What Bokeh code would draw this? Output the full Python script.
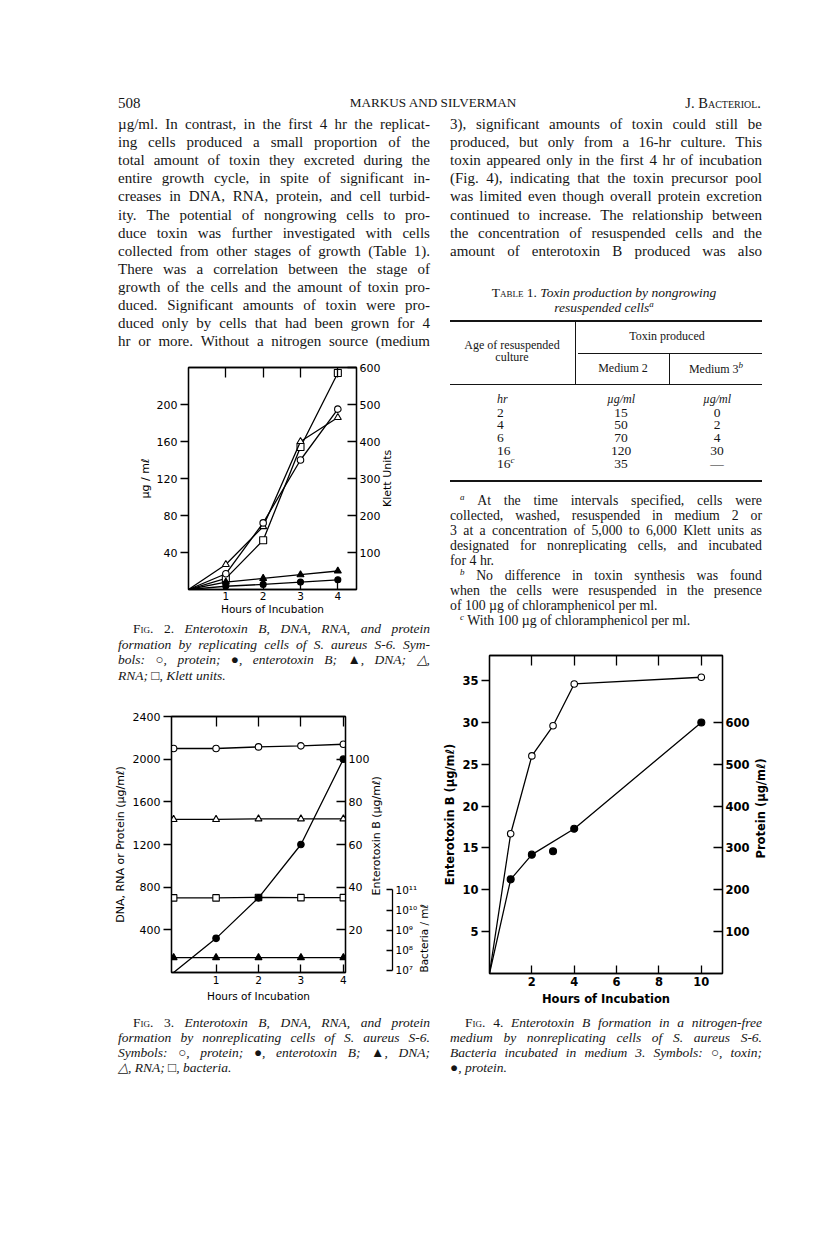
import math
import re
from bokeh.plotting import figure
from bokeh.models import (Div, Spacer, LinearAxis, LogAxis, Range1d, LogScale,
                          FixedTicker, CustomJSTickFormatter)
from bokeh.layouts import column, row
from bokeh.embed import file_html
from bokeh.resources import INLINE

# ---------------------------------------------------------------- data
fig2_hours = [0, 1, 2, 3, 4]
fig2_protein = [0, 17, 72, 140, 195]
fig2_enterotoxin = [0, 3.5, 5.5, 8, 10.5]
fig2_dna = [0, 8, 12, 16, 20]
fig2_rna = [0, 27, 68, 160, 186]
fig2_klett = [0, 30, 133, 385, 585]
fig2_x_ticks = [1, 2, 3, 4]
fig2_left_ticks = [40, 80, 120, 160, 200]
fig2_right_ticks = [100, 200, 300, 400, 500, 600]

fig3_hours = [0, 1, 2, 3, 4]
fig3_protein = [2100, 2100, 2115, 2125, 2140]
fig3_rna = [1435, 1435, 1440, 1440, 1440]
fig3_dna = [140, 140, 140, 140, 140]
fig3_bacteria = [4.0e10, 4.0e10, 4.2e10, 4.1e10, 4.1e10]
fig3_enterotoxin = [0, 16, 35, 60, 100]
fig3_x_ticks = [1, 2, 3, 4]
fig3_left_ticks = [400, 800, 1200, 1600, 2000, 2400]
fig3_tox_ticks = [20, 40, 60, 80, 100]
fig3_bact_ticks = [1e7, 1e8, 1e9, 1e10, 1e11]

fig4_hours = [0, 1, 2, 3, 4, 10]
fig4_toxin = [0, 16.7, 26, 29.6, 34.6, 35.4]
fig4_protein = [0, 225, 284, 292, 346, 600]
fig4_protein_off_curve = [3]
fig4_x_ticks = [2, 4, 6, 8, 10]
fig4_left_ticks = [5, 10, 15, 20, 25, 30, 35]
fig4_right_ticks = [100, 200, 300, 400, 500, 600]

SUP = '<span style="font-size:9px;font-style:italic;position:relative;top:-5px">{}</span>'
table_age = ["2", "4", "6", "16", "16" + SUP.format("c")]
table_medium2 = ["15", "50", "70", "120", "35"]
table_medium3 = ["0", "2", "4", "30", "—"]

# ---------------------------------------------------------------- text
left_text = [
    "µg/ml. In contrast, in the first 4 hr the replicat-",
    "ing cells produced a small proportion of the",
    "total amount of toxin they excreted during the",
    "entire growth cycle, in spite of significant in-",
    "creases in DNA, RNA, protein, and cell turbid-",
    "ity. The potential of nongrowing cells to pro-",
    "duce toxin was further investigated with cells",
    "collected from other stages of growth (Table 1).",
    "There was a correlation between the stage of",
    "growth of the cells and the amount of toxin pro-",
    "duced. Significant amounts of toxin were pro-",
    "duced only by cells that had been grown for 4",
    "hr or more. Without a nitrogen source (medium",
]
right_text = [
    "3), significant amounts of toxin could still be",
    "produced, but only from a 16-hr culture. This",
    "toxin appeared only in the first 4 hr of incubation",
    "(Fig. 4), indicating that the toxin precursor pool",
    "was limited even though overall protein excretion",
    "continued to increase. The relationship between",
    "the concentration of resuspended cells and the",
    "amount of enterotoxin B produced was also",
]
footnotes = [
    (SUP.format("a") + " At the time intervals specified, cells were", True, True),
    ("collected, washed, resuspended in medium 2 or", True, False),
    ("3 at a concentration of 5,000 to 6,000 Klett units as", True, False),
    ("designated for nonreplicating cells, and incubated", True, False),
    ("for 4 hr.", False, False),
    (SUP.format("b") + " No difference in toxin synthesis was found", True, True),
    ("when the cells were resuspended in the presence", True, False),
    ("of 100 µg of chloramphenicol per ml.", False, False),
    (SUP.format("c") + " With 100 µg of chloramphenicol per ml.", False, True),
]
FIGW = '<span style="font-variant:small-caps;font-style:normal">Fig.</span>'
cap2 = [FIGW + ' <span style="font-style:normal">2.</span> Enterotoxin B, DNA, RNA, and protein',
        "formation by replicating cells of S. aureus S-6. Sym-",
        "bols: ○, protein; ●, enterotoxin B; ▲, DNA; △,",
        "RNA; □, Klett units."]
cap3 = [FIGW + ' <span style="font-style:normal">3.</span> Enterotoxin B, DNA, RNA, and protein',
        "formation by nonreplicating cells of S. aureus S-6.",
        "Symbols: ○, protein; ●, enterotoxin B; ▲, DNA;",
        "△, RNA; □, bacteria."]
cap4 = [FIGW + ' <span style="font-style:normal">4.</span> Enterotoxin B formation in a nitrogen-free',
        "medium by nonreplicating cells of S. aureus S-6.",
        "Bacteria incubated in medium 3. Symbols: ○, toxin;",
        "●, protein."]

FONT = "DejaVu Sans"
SERIF = "'Liberation Serif', serif"
LW = 1.3
Z = (0, 0, 0, 0)


# ---------------------------------------------------------------- html helpers
def jline(txt, left, cy, width, size, lh, justify=True, extra=""):
    top = cy - lh / 2
    base = (f"position:absolute;left:{left:.1f}px;top:{top:.1f}px;width:{width:.1f}px;"
            f"height:{lh}px;line-height:{lh}px;font-size:{size}px;white-space:nowrap;{extra}")
    if justify:
        words = re.split(r" (?![^<]*>)", txt)
        inner = "".join(f"<span>{w}</span>" for w in words)
        return f'<div style="{base}display:flex;justify-content:space-between;">{inner}</div>'
    return f'<div style="{base}">{txt}</div>'


def tbox(txt, cx, cy, size, width=200, align="center", lh=14, extra=""):
    if align == "center":
        left = cx - width / 2
    elif align == "right":
        left = cx - width
    else:
        left = cx
    return (f'<div style="position:absolute;left:{left:.1f}px;top:{cy - lh / 2:.1f}px;width:{width}px;'
            f'height:{lh}px;line-height:{lh}px;font-size:{size}px;text-align:{align};white-space:nowrap;{extra}">'
            f'{txt}</div>')


def rule(left, top, width, height):
    return (f'<div style="position:absolute;left:{left:.1f}px;top:{top:.1f}px;width:{width:.1f}px;'
            f'height:{height:.1f}px;background:#151515"></div>')


def make_div(inner, w, h):
    html = (f'<div style="position:relative;width:{w}px;height:{h}px;font-family:{SERIF};'
            f'color:#151515;background:white">{inner}</div>')
    return Div(text=html, width=w, height=h, margin=Z)


BODY_SIZE, BODY_LH, BODY_Y0 = 15, 18.1, 124
NOTE_SIZE, NOTE_LH, NOTE_Y0 = 13.8, 15, 500
CAP_SIZE = 13.5

HDR_Y = 92
BODY_Y = 114
LEFT_X, RIGHT_X = 100, 440

hdr = (tbox("508", 118, 103 - HDR_Y, 15, width=60, align="left", lh=22)
       + tbox("MARKUS AND SILVERMAN", 433, 103 - HDR_Y, 13.2, width=400, lh=22)
       + tbox('J. <span style="font-variant:small-caps">Bacteriol.</span>', 761, 103 - HDR_Y, 14.5,
              width=200, align="right", lh=22))
header_div = make_div(hdr, 816, 22)

inner = "".join(jline(t, 118 - LEFT_X, BODY_Y0 + i * BODY_LH - BODY_Y, 312, BODY_SIZE, BODY_LH)
                for i, t in enumerate(left_text))
left_text_div = make_div(inner, 340, 242)

OX, OY = RIGHT_X, BODY_Y
parts = [jline(t, 450 - OX, BODY_Y0 + i * BODY_LH - OY, 312, BODY_SIZE, BODY_LH)
         for i, t in enumerate(right_text)]
parts.append(tbox('<span style="font-variant:small-caps">Table</span> 1. <i>Toxin production by nongrowing</i>',
                  604 - OX, 293 - OY, 13.5, width=330))
parts.append(tbox('<i>resuspended cells</i>' + SUP.format("a"), 604 - OX, 308 - OY, 13.5, width=330))
parts.append(rule(450 - OX, 320 - OY, 312, 1.8))
parts.append(rule(575 - OX, 321 - OY, 1, 63))
parts.append(rule(578 - OX, 353 - OY, 184, 1))
parts.append(rule(669 - OX, 353 - OY, 1, 31))
parts.append(rule(450 - OX, 384 - OY, 312, 1))
parts.append(rule(450 - OX, 480 - OY, 312, 1.8))
parts.append(tbox("Toxin produced", 667 - OX, 336 - OY, 12))
parts.append(tbox("Age of resuspended", 512 - OX, 345 - OY, 12, lh=11))
parts.append(tbox("culture", 512 - OX, 357 - OY, 12, lh=11))
parts.append(tbox("Medium 2", 623 - OX, 368 - OY, 12))
parts.append(tbox("Medium 3" + SUP.format("b"), 716 - OX, 369 - OY, 12))
parts.append(tbox("<i>hr</i>", 497 - OX, 399 - OY, 12, width=60, align="left"))
parts.append(tbox("<i>µg/ml</i>", 621 - OX, 399 - OY, 12, width=80))
parts.append(tbox("<i>µg/ml</i>", 717 - OX, 399 - OY, 12, width=80))
for i, (a, m2, m3) in enumerate(zip(table_age, table_medium2, table_medium3)):
    cy = 412 + i * 12.8 - OY
    parts.append(tbox(a, 497 - OX, cy, 13.5, width=60, align="left", lh=13))
    parts.append(tbox(m2, 621 - OX, cy, 13.5, width=60, lh=13))
    parts.append(tbox(m3, 717 - OX, cy, 13.5, width=60, lh=13))
for i, (t, just, indent) in enumerate(footnotes):
    ind = 10 if indent else 0
    parts.append(jline(t, 450 - OX + ind, NOTE_Y0 + i * NOTE_LH - OY, 312 - ind, NOTE_SIZE, NOTE_LH,
                       justify=just))
right_div = make_div("".join(parts), 340, 526)


def caption_div(lines, ox, oy, h, y0, pitch, x0):
    out = []
    for i, t in enumerate(lines):
        indent = 15 if i == 0 else 0
        out.append(jline(t, x0 - ox + indent, y0 + i * pitch - oy, 312 - indent, CAP_SIZE, pitch,
                         justify=(i < len(lines) - 1), extra="font-style:italic;"))
    return make_div("".join(out), 340, h)


cap2_div = caption_div(cap2, LEFT_X, 618, 72, 629, 15.5, 118)
cap3_div = caption_div(cap3, LEFT_X, 1010, 80, 1022, 15, 118)
cap4_div = caption_div(cap4, RIGHT_X, 1012, 78, 1022, 15, 450)


# ---------------------------------------------------------------- chart helpers
def base_fig(w, h, xr, yr, borders):
    l, r, t, b = borders
    p = figure(width=w, height=h, x_range=Range1d(*xr), y_range=Range1d(*yr),
               output_backend="svg", toolbar_location=None,
               min_border_left=l, min_border_right=r, min_border_top=t, min_border_bottom=b,
               background_fill_color="white", border_fill_color="white", margin=Z)
    p.xgrid.grid_line_color = None
    p.ygrid.grid_line_color = None
    p.outline_line_color = "black"
    p.outline_line_width = LW
    return p


def style_axis(ax, ticks, tin=0, tout=0, size="11px", standoff=3, label=None,
               label_standoff=3, weight="normal", hide_labels=False):
    ax.ticker = FixedTicker(ticks=ticks)
    ax.major_label_text_font = FONT
    ax.major_label_text_font_size = size
    ax.major_label_text_font_style = weight
    ax.major_label_text_color = "black"
    ax.major_label_standoff = standoff
    if hide_labels:
        ax.formatter = CustomJSTickFormatter(code="return '';")
    ax.axis_line_color = "black"
    ax.axis_line_width = LW
    ax.major_tick_line_color = "black"
    ax.major_tick_line_width = LW
    ax.major_tick_in = tin
    ax.major_tick_out = tout
    ax.minor_tick_line_color = None
    if label is not None:
        ax.axis_label = label
        ax.axis_label_standoff = label_standoff
        ax.axis_label_text_font = FONT
        ax.axis_label_text_font_size = size
        ax.axis_label_text_font_style = weight
        ax.axis_label_text_color = "black"


def right_label(ax, text, lead_em, standoff_up, standoff_plain):
    """Right-hand axis title reading upwards (as printed), anchored at the start
    of the axis and moved along it with leading em spaces."""
    ok = False
    for val in ("start", "left"):
        try:
            ax.axis_label_align = val
            ok = True
            break
        except Exception:
            continue
    if ok:
        try:
            ax.axis_label_orientation = math.pi / 2
        except Exception:
            ok = False
    if ok:
        ax.axis_label = "\u2003" * int(lead_em) + ("\u2002" if lead_em % 1 else "") + text
        ax.axis_label_standoff = standoff_up
    else:
        ax.axis_label = text
        ax.axis_label_standoff = standoff_plain


def series(p, x, y, marker, filled, size=7, rng="default", markers_at_zero=False, curve_skip=()):
    lx = [a for a in x if a not in curve_skip]
    ly = [b for a, b in zip(x, y) if a not in curve_skip]
    p.line(lx, ly, line_color="black", line_width=LW, y_range_name=rng)
    px = [a for a in x if markers_at_zero or a > 0]
    py = [b for a, b in zip(x, y) if markers_at_zero or a > 0]
    p.scatter(px, py, marker=marker, size=size, line_color="black", line_width=1.1,
              fill_color="black" if filled else "white", y_range_name=rng)


def top_ticks(p, ticks):
    top = LinearAxis()
    style_axis(top, ticks, tin=10, standoff=0, hide_labels=True)
    p.add_layout(top, "above")


def boxed(p, h):
    # own row so the column does not line up the frames of different figures
    return row(Spacer(width=1, height=h, margin=Z), p, spacing=0, margin=Z)


# ---------------------------------------------------------------- Fig. 2
p2 = base_fig(339, 262, (0, 4.5), (0, 240), (87, 84, 11, 29))
p2.extra_y_ranges = {"klett": Range1d(0, 600)}
style_axis(p2.xaxis[0], fig2_x_ticks, tin=8, standoff=2, size="10.5px",
           label="Hours of Incubation", label_standoff=0)
style_axis(p2.yaxis[0], fig2_left_ticks, tout=8, label="µg / mℓ", label_standoff=2)
ax = LinearAxis(y_range_name="klett")
style_axis(ax, fig2_right_ticks, tin=9, standoff=3, label="Klett Units")
right_label(ax, "Klett Units", 7.5, 4, 3)
p2.add_layout(ax, "right")
top_ticks(p2, fig2_x_ticks)
series(p2, fig2_hours, fig2_klett, "square", False, size=7, rng="klett")
series(p2, fig2_hours, fig2_rna, "triangle", False, size=7)
series(p2, fig2_hours, fig2_protein, "circle", False, size=6.5)
series(p2, fig2_hours, fig2_dna, "triangle", True, size=7)
series(p2, fig2_hours, fig2_enterotoxin, "circle", True, size=6)

# ---------------------------------------------------------------- Fig. 3
p3 = base_fig(339, 320, (-0.05, 4.05), (0, 2400), (70, 95, 26, 38))
p3.extra_y_ranges = {"tox": Range1d(0, 120),
                     "bact": Range1d(10 ** 6.9, 10 ** 19.6)}
p3.extra_y_scales = {"bact": LogScale()}
style_axis(p3.xaxis[0], fig3_x_ticks, tin=8, standoff=3, size="10.5px",
           label="Hours of Incubation", label_standoff=3)
style_axis(p3.yaxis[0], fig3_left_ticks, tout=8, size="11px",
           label="DNA, RNA or Protein (µg/mℓ)", label_standoff=3)
ax = LinearAxis(y_range_name="tox")
style_axis(ax, fig3_tox_ticks, tin=9, standoff=3, label="Enterotoxin B (µg/mℓ)")
right_label(ax, "Enterotoxin B (µg/mℓ)", 7, 4, 2)
p3.add_layout(ax, "right")
lax = LogAxis(y_range_name="bact", bounds=(1e7, 1e11))
style_axis(lax, fig3_bact_ticks, tin=6, standoff=3, size="10.5px", label="Bacteria / mℓ")
right_label(lax, "Bacteria / mℓ", 0, 4, 4)
lax.formatter = CustomJSTickFormatter(code="""
const e = Math.round(Math.log10(tick));
const sup = {7: '\\u2077', 8: '\\u2078', 9: '\\u2079', 10: '\\u00b9\\u2070', 11: '\\u00b9\\u00b9'};
return '10' + sup[e];
""")
p3.add_layout(lax, "right")
top_ticks(p3, fig3_x_ticks)
series(p3, fig3_hours, fig3_protein, "circle", False, size=6.5, markers_at_zero=True)
series(p3, fig3_hours, fig3_rna, "triangle", False, size=7, markers_at_zero=True)
series(p3, fig3_hours, fig3_bacteria, "square", False, size=6.5, rng="bact", markers_at_zero=True)
series(p3, fig3_hours, fig3_dna, "triangle", True, size=7, markers_at_zero=True)
series(p3, fig3_hours, fig3_enterotoxin, "circle", True, size=6.5, rng="tox")

# ---------------------------------------------------------------- Fig. 4
p4 = base_fig(340, 372, (0, 11), (0, 38), (48, 58, 15, 39))
p4.extra_y_ranges = {"prot": Range1d(0, 760)}
style_axis(p4.xaxis[0], fig4_x_ticks, tin=8, standoff=3, size="11.5px", weight="bold",
           label="Hours of Incubation", label_standoff=3)
style_axis(p4.yaxis[0], fig4_left_ticks, tout=8, size="11.5px", weight="bold",
           label="Enterotoxin B (µg/mℓ)", label_standoff=2)
ax = LinearAxis(y_range_name="prot")
style_axis(ax, fig4_right_ticks, tin=9, standoff=3, size="11.5px", weight="bold",
           label="Protein (µg/mℓ)")
right_label(ax, "Protein (µg/mℓ)", 10, 8, 4)
p4.add_layout(ax, "right")
top_ticks(p4, fig4_x_ticks)
series(p4, fig4_hours, fig4_toxin, "circle", False, size=6.5)
series(p4, fig4_hours, fig4_protein, "circle", True, size=7, rng="prot",
       curve_skip=fig4_protein_off_curve)

# ---------------------------------------------------------------- page layout
left_col = column(left_text_div, boxed(p2, 262), cap2_div, boxed(p3, 320), cap3_div,
                  spacing=0, margin=Z)
right_col = column(right_div, p4, cap4_div, spacing=0, margin=Z)
body = row(Spacer(width=LEFT_X, height=10, margin=Z), left_col, right_col, spacing=0, margin=Z)
root = column(Spacer(width=800, height=HDR_Y, margin=Z), header_div, body, spacing=0, margin=Z)

open("out.html", "w").write(file_html(root, INLINE))
